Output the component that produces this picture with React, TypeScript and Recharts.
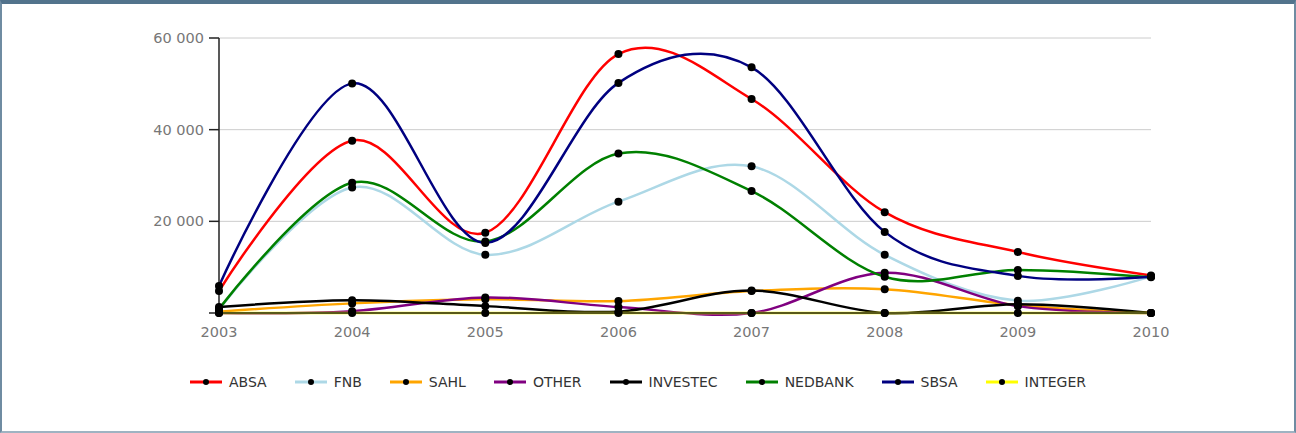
import React from 'react';
import { LineChart, Line, XAxis, YAxis, CartesianGrid } from 'recharts';

const years = ['2003', '2004', '2005', '2006', '2007', '2008', '2009', '2010'];
const absa = [4800, 37600, 17500, 56500, 46700, 22000, 13300, 8200];
const fnb = [800, 27400, 12700, 24300, 32000, 12700, 2700, 8000];
const sahl = [300, 2100, 3000, 2600, 4800, 5200, 1700, 0];
const other = [0, 400, 3400, 1300, 0, 8800, 1500, 0];
const investec = [1300, 2800, 1500, 300, 4900, 0, 1900, 0];
const nedbank = [900, 28400, 15600, 34800, 26600, 7900, 9400, 7800];
const sbsa = [5900, 50100, 15300, 50200, 53600, 17700, 8100, 7900];
const integer = [0, 0, 0, 0, 0, 0, 0, 0];
const yTicks = [0, 20000, 40000, 60000];

const seriesNames = ['ABSA', 'FNB', 'SAHL', 'OTHER', 'INVESTEC', 'NEDBANK', 'SBSA', 'INTEGER'];
const seriesValues = [absa, fnb, sahl, other, investec, nedbank, sbsa, integer];
const seriesColors = ['#ff0000', '#add8e6', '#ffa500', '#800080', '#000000', '#008000', '#000080', '#ffff00'];

const data = years.map((y, i) => {
  const row: any = { year: y };
  seriesNames.forEach((n, j) => {
    row[n] = seriesValues[j][i];
  });
  return row;
});

// Catmull-Rom (cardinal, tension 0) curve factory
class Cardinal {
  _context: any;
  _k: number;
  _line: number = NaN;
  _point: number = 0;
  _x0 = NaN; _x1 = NaN; _x2 = NaN;
  _y0 = NaN; _y1 = NaN; _y2 = NaN;
  constructor(context: any, tension: number) {
    this._context = context;
    this._k = (1 - tension) / 6;
  }
  _bez(x: number, y: number) {
    this._context.bezierCurveTo(
      this._x1 + this._k * (this._x2 - this._x0),
      this._y1 + this._k * (this._y2 - this._y0),
      this._x2 + this._k * (this._x1 - x),
      this._y2 + this._k * (this._y1 - y),
      this._x2,
      this._y2
    );
  }
  areaStart() { this._line = 0; }
  areaEnd() { this._line = NaN; }
  lineStart() {
    this._x0 = this._x1 = this._x2 = this._y0 = this._y1 = this._y2 = NaN;
    this._point = 0;
  }
  lineEnd() {
    switch (this._point) {
      case 2: this._context.lineTo(this._x2, this._y2); break;
      case 3: this._bez(this._x1, this._y1); break;
    }
    if (this._line || (this._line !== 0 && this._point === 1)) this._context.closePath();
    this._line = 1 - this._line;
  }
  point(x: number, y: number) {
    x = +x; y = +y;
    switch (this._point) {
      case 0:
        this._point = 1;
        if (this._line) this._context.lineTo(x, y); else this._context.moveTo(x, y);
        break;
      case 1:
        this._point = 2;
        this._x1 = x; this._y1 = y;
        break;
      case 2:
        this._point = 3;
        this._bez(x, y);
        break;
      default:
        this._bez(x, y);
        break;
    }
    this._x0 = this._x1; this._x1 = this._x2; this._x2 = x;
    this._y0 = this._y1; this._y1 = this._y2; this._y2 = y;
  }
}

const catmullRom: any = (context: any) => new Cardinal(context, 0);

const fmt = (v: number) => (v === 0 ? '' : String(v).replace(/\B(?=(\d{3})+(?!\d))/g, ' '));

const FONT = '"DejaVu Sans", Verdana, sans-serif';

export default function App() {
  return (
    <div style={{ position: 'absolute', left: 0, top: 0, width: 1296, height: 433, background: '#fff' }}>
      <LineChart
        width={1296}
        height={433}
        data={data}
        margin={{ top: 38, right: 145, bottom: 90, left: 159 }}
      >
        <CartesianGrid horizontal={true} vertical={false} stroke="#cccccc" strokeWidth={1} />
        <XAxis
          dataKey="year"
          tickLine={false}
          tickSize={0}
          tickMargin={14}
          axisLine={{ stroke: '#222', strokeWidth: 1.5 }}
          tick={{ fill: '#777', fontSize: 14.5, fontFamily: FONT }}
          height={30}
          interval={0}
        />
        <YAxis
          domain={[0, 60000]}
          ticks={yTicks}
          tickFormatter={fmt}
          width={60}
          tickSize={10}
          tickMargin={5}
          tickLine={{ stroke: '#222', strokeWidth: 1.5 }}
          axisLine={{ stroke: '#222', strokeWidth: 1.5 }}
          tick={{ fill: '#777', fontSize: 14.5, fontFamily: FONT }}
        />
        {seriesNames.map((n, j) => (
          <Line
            key={n}
            dataKey={n}
            type={catmullRom}
            stroke={seriesColors[j]}
            strokeWidth={2.5}
            dot={{ r: 4, fill: '#000', stroke: 'none' }}
            activeDot={false}
            isAnimationActive={false}
          />
        ))}
      </LineChart>
      <div
        style={{
          position: 'absolute',
          left: 190,
          top: 373,
          display: 'flex',
          alignItems: 'center',
          height: 18,
          fontFamily: FONT,
          fontSize: 14,
          color: '#333',
          whiteSpace: 'nowrap',
        }}
      >
        {seriesNames.map((n, j) => (
          <div key={n} style={{ display: 'flex', alignItems: 'center', marginRight: 28 }}>
            <svg width={32} height={10} style={{ marginRight: 7 }}>
              <line x1={0} y1={5} x2={32} y2={5} stroke={seriesColors[j]} strokeWidth={3} />
              <circle cx={16} cy={5} r={3} fill="#000" />
            </svg>
            <span>{n}</span>
          </div>
        ))}
      </div>
      <div
        style={{
          position: 'absolute',
          left: 0,
          top: 0,
          width: 1296,
          height: 433,
          boxSizing: 'border-box',
          borderTop: '4px solid #52738c',
          borderLeft: '2px solid #6f8ca2',
          borderRight: '2px solid #6f8ca2',
          borderBottom: '2px solid #9fb3c2',
          pointerEvents: 'none',
        }}
      />
    </div>
  );
}
